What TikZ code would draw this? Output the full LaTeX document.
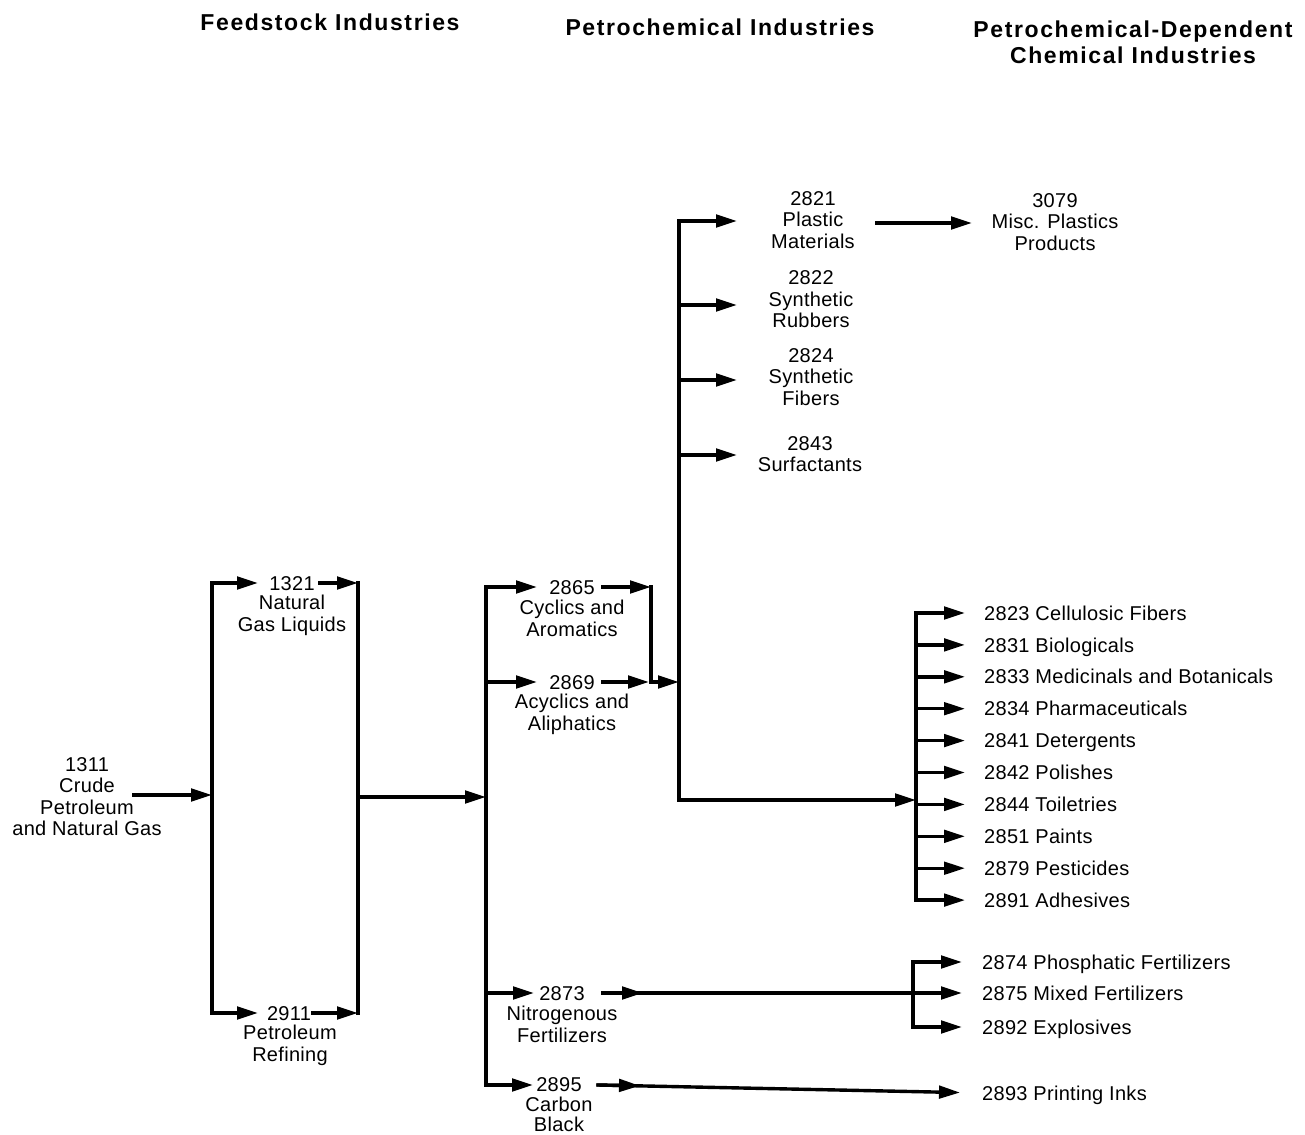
\documentclass[tikz,border=0pt]{standalone}
\usepackage{fontspec}
\setmainfont{Liberation Sans}[LetterSpace=1.5]
\newfontfamily\headfont{Liberation Sans}[LetterSpace=7]
\usetikzlibrary{arrows.meta}
\newcommand\txtsize{\fontsize{20}{21.5}\selectfont}
\newcommand\headsize{\fontsize{23}{26}\selectfont}
\tikzset{
  wire/.style={line width=3.4pt, line cap=rect, line join=miter},
  arr/.style={wire, -{Triangle[length=21pt,width=12.5pt]}},
  num/.style={inner sep=0pt, font=\txtsize, text height=14.3pt, text depth=0pt},
  desc/.style={inner sep=0pt, align=center, anchor=base, font=\txtsize},
  item/.style={inner sep=0pt, anchor=west, font=\txtsize, text height=14.3pt, text depth=0pt},
  head/.style={inner sep=0pt, anchor=base, align=center, font=\headfont\bfseries\headsize},
}
\begin{document}
\begin{tikzpicture}[x=1pt,y=-1pt]
\useasboundingbox (0,0) rectangle (1305,1134);
% headers (base anchor = baseline of the last line)
\node[head] (hFeed) at (330,31) {Feedstock Industries};
\node[head] (hPetro) at (720,36) {Petrochemical Industries};
\node[head] (hDep) at (1133,64) {Petrochemical-Dependent\\Chemical Industries};

% feedstock
\node[desc] (n1311) at (87,835.5) {1311\\Crude\\Petroleum\\and Natural Gas};
\node[num] (n1321) at (292,583) {1321};
\node[desc] (d1321) at (292,631) {Natural\\Gas Liquids};
\node[num] (n2911) at (289,1013) {2911};
\node[desc] (d2911) at (290,1061) {Petroleum\\Refining};

\coordinate (s1311) at (134,795);
\coordinate (b1m) at (212,795);
\coordinate (b1t) at (212,583);
\coordinate (b1b) at (212,1013);
\coordinate (t1321) at (258,583);
\coordinate (t2911) at (258,1013);
\coordinate (s1321) at (320,583);
\coordinate (s2911) at (313,1013);
\coordinate (r1t) at (358,583);
\coordinate (r1b) at (358,1013);
\coordinate (r1m) at (358,797);
\coordinate (b2m) at (486,797);

\draw[arr] (s1311) -- (b1m);
\draw[arr] (b1b) -- (b1t) -- (t1321);
\draw[arr] (b1b) -- (t2911);
\draw[wire] (r1t) -- (r1b);
\draw[arr] (s1321) -- (r1t);
\draw[arr] (s2911) -- (r1b);
\draw[arr] (r1m) -- (b2m);

% petrochemical
\node[num] (n2865) at (572,587) {2865};
\node[desc] (d2865) at (572,636) {Cyclics and\\Aromatics};
\node[num] (n2869) at (572,682) {2869};
\node[desc] (d2869) at (572,730) {Acyclics and\\Aliphatics};
\node[num] (n2873) at (562,993) {2873};
\node[desc] (d2873) at (562,1042) {Nitrogenous\\Fertilizers};
\node[num] (n2895) at (559,1084) {2895};
\node[desc, font=\fontsize{20}{20.5}\selectfont] (d2895) at (559,1131.5) {Carbon\\Black};

\coordinate (b2t) at (486,587);
\coordinate (b2a) at (486,682);
\coordinate (b2c) at (486,993);
\coordinate (b2b) at (486,1085);
\coordinate (t2865) at (537,587);
\coordinate (t2869) at (537,682);
\coordinate (t2873) at (534,993);
\coordinate (t2895) at (533,1085);
\draw[arr] (b2b) -- (b2t) -- (t2865);
\draw[arr] (b2a) -- (t2869);
\draw[arr] (b2c) -- (t2873);
\draw[arr] (b2b) -- (t2895);

\coordinate (s2865) at (603,587);
\coordinate (r2t) at (651,587);
\coordinate (s2869) at (603,682);
\coordinate (e2869) at (649,682);
\coordinate (r2b) at (651,682);
\coordinate (b3a) at (679,682);
\draw[wire] (r2t) -- (r2b);
\draw[arr] (s2865) -- (r2t);
\draw[arr] (s2869) -- (e2869);
\draw[arr] (r2b) -- (b3a);

% bus 3
\node[desc] (n2821) at (813,248) {2821\\Plastic\\Materials};
\node[desc] (n2822) at (811,327.5) {2822\\Synthetic\\Rubbers};
\node[desc] (n2824) at (811,405) {2824\\Synthetic\\Fibers};
\node[desc] (n2843) at (810,471.5) {2843\\Surfactants};
\node[desc] (n3079) at (1055,250) {3079\\Misc. Plastics\\Products};

\coordinate (b3t) at (679,221);
\coordinate (b3p2) at (679,305);
\coordinate (b3p3) at (679,380);
\coordinate (b3p4) at (679,455);
\coordinate (b3b) at (679,800);
\coordinate (t2821) at (737,221);
\coordinate (t2822) at (737,305);
\coordinate (t2824) at (737,380);
\coordinate (t2843) at (737,455);
\coordinate (b4m) at (916,800);
\draw[arr] (b3b) -- (b3t) -- (t2821);
\draw[arr] (b3p2) -- (t2822);
\draw[arr] (b3p3) -- (t2824);
\draw[arr] (b3p4) -- (t2843);
\draw[arr] (b3b) -- (b4m);

\coordinate (s2821) at (877,223);
\coordinate (t3079) at (972,223);
\draw[arr] (s2821) -- (t3079);

% bus 4
\coordinate (b4t) at (916,613);
\coordinate (b4b) at (916,900);
\draw[wire] (b4t) -- (b4b);
\foreach \k/\nm/\lb in {0/2823/Cellulosic Fibers, 1/2831/Biologicals, 2/2833/Medicinals and Botanicals, 3/2834/Pharmaceuticals, 4/2841/Detergents, 5/2842/Polishes, 6/2844/Toiletries, 7/2851/Paints, 8/2879/Pesticides, 9/2891/Adhesives} {
  \pgfmathsetmacro\yy{613+31.9*\k}
  \node[item] (i\nm) at (984,\yy) {\nm\ \lb};
  \coordinate (bi\nm) at (916,\yy);
  \draw[arr, shorten >=19pt] (bi\nm) -- (i\nm.west);
}

% fertilizers
\node[item] (i2874) at (982,962) {2874 Phosphatic Fertilizers};
\node[item] (i2875) at (982,993) {2875 Mixed Fertilizers};
\node[item] (i2892) at (982,1027) {2892 Explosives};
\node[item] (i2893) at (982,1093) {2893 Printing Inks};
\coordinate (b5t) at (913,962);
\coordinate (b5m) at (913,993);
\coordinate (b5b) at (913,1027);
\draw[wire] (b5t) -- (b5b);
\draw[arr, shorten >=20pt] (b5t) -- (i2874.west);
\draw[arr, shorten >=20pt] (b5m) -- (i2875.west);
\draw[arr, shorten >=20pt] (b5b) -- (i2892.west);

\coordinate (s2873) at (603,993);
\coordinate (h2873) at (643,993);
\draw[wire] (s2873) -- (b5m);
\draw[arr] (s2873) -- (h2873);

\coordinate (s2895) at (598,1085);
\coordinate (h2895) at (640,1085.8);
\draw[arr] (s2895) -- (h2895);
\draw[arr, shorten >=22pt] (s2895) -- (i2893.west);
\end{tikzpicture}
\end{document}
